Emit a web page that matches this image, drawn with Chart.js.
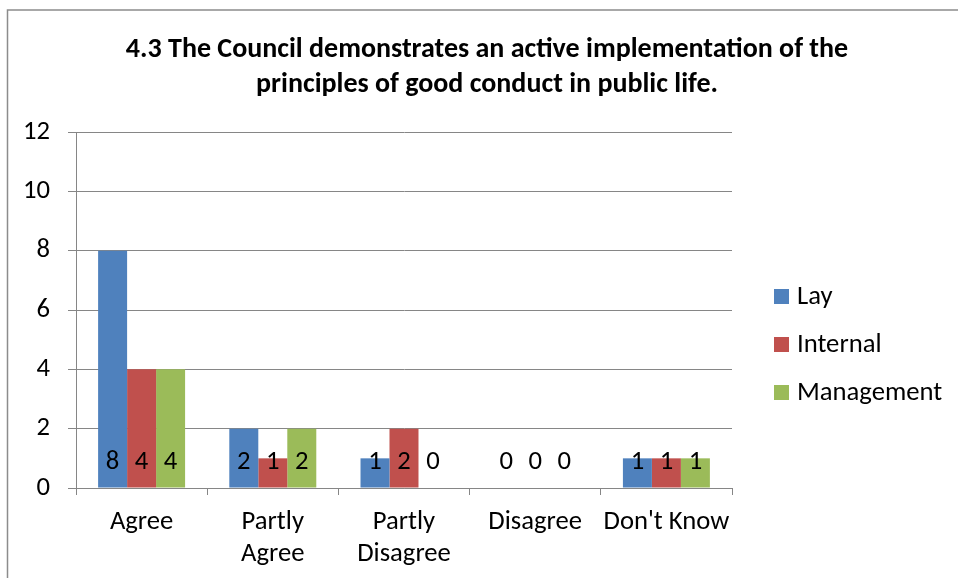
<!DOCTYPE html>
<html>
<head>
<meta charset="utf-8">
<script src="https://cdn.jsdelivr.net/npm/chart.js@4.4.1/dist/chart.umd.min.js"></script>
<style>
  html, body { margin: 0; padding: 0; background: #ffffff; }
  #wrap { width: 958px; height: 578px; position: relative; }
</style>
</head>
<body>
<div id="wrap"><canvas id="c" width="958" height="578"></canvas></div>
<script>
const titleLines = ['4.3 The Council demonstrates an active implementation of the', 'principles of good conduct in public life.'];
const categories = ['Agree', ['Partly', 'Agree'], ['Partly', 'Disagree'], 'Disagree', "Don't Know"];
const seriesNames = ['Lay', 'Internal', 'Management'];
const layValues = [8, 2, 1, 0, 1];
const internalValues = [4, 1, 2, 0, 1];
const managementValues = [4, 2, 0, 0, 1];
const seriesColors = ['#4F81BD', '#C0504D', '#9BBB59'];
const yTickMin = 0, yTickMax = 12, yTickStep = 2;

const FONT = 'Carlito, Lato, "Open Sans", sans-serif';
const GRID = '#868686';
const TXT = 26.67;

const frame = {
  id: 'frame',
  beforeDraw(chart) {
    const ctx = chart.ctx;
    ctx.save();
    ctx.fillStyle = '#ffffff';
    ctx.fillRect(0, 0, chart.width, chart.height);
    ctx.strokeStyle = '#8c8c8c';
    ctx.lineWidth = 1.5;
    ctx.strokeRect(7.5, 10, chart.width + 20, chart.height + 20);
    ctx.restore();
  }
};

const valueLabels = {
  id: 'valueLabels',
  afterDatasetsDraw(chart) {
    const ctx = chart.ctx;
    const yScale = chart.scales.y;
    const base = yScale.getPixelForValue(0);
    ctx.save();
    ctx.font = TXT + 'px ' + FONT;
    ctx.fillStyle = '#000000';
    ctx.textAlign = 'center';
    ctx.textBaseline = 'middle';
    chart.data.datasets.forEach((ds, i) => {
      const meta = chart.getDatasetMeta(i);
      meta.data.forEach((el, j) => {
        ctx.fillText(String(ds.data[j]), el.x, base - 26);
      });
    });
    ctx.restore();
  }
};

const customLegend = {
  id: 'customLegend',
  afterDraw(chart) {
    const ctx = chart.ctx;
    ctx.save();
    ctx.font = TXT + 'px ' + FONT;
    ctx.textBaseline = 'middle';
    ctx.textAlign = 'left';
    chart.data.datasets.forEach((ds, i) => {
      const cy = 296.5 + i * 48;
      ctx.fillStyle = ds.backgroundColor;
      ctx.fillRect(774, cy - 7.5, 15, 15);
      ctx.fillStyle = '#000000';
      ctx.fillText(ds.label, 797, cy + 1);
    });
    ctx.restore();
  }
};

new Chart(document.getElementById('c'), {
  type: 'bar',
  data: {
    labels: categories,
    datasets: [
      { label: seriesNames[0], data: layValues, backgroundColor: seriesColors[0] },
      { label: seriesNames[1], data: internalValues, backgroundColor: seriesColors[1] },
      { label: seriesNames[2], data: managementValues, backgroundColor: seriesColors[2] }
    ]
  },
  options: {
    responsive: false,
    animation: false,
    devicePixelRatio: 1,
    layout: { padding: { left: 16, right: 0, top: 0, bottom: 0 } },
    datasets: { bar: { categoryPercentage: 0.663, barPercentage: 1.0 } },
    plugins: {
      legend: { display: false },
      tooltip: { enabled: false },
      title: {
        display: true,
        text: titleLines,
        color: '#000000',
        font: { family: FONT, size: 28, weight: 'bold', lineHeight: 1.25 },
        padding: { top: 32, bottom: 30 }
      }
    },
    scales: {
      x: {
        offset: true,
        grid: { display: true, drawOnChartArea: false, offset: true, tickLength: 7, color: GRID, lineWidth: 1 },
        border: { display: true, color: GRID, width: 1 },
        ticks: { color: '#000000', padding: 11, maxRotation: 0, autoSkip: false, font: { family: FONT, size: TXT, lineHeight: 1.2 } },
        afterFit(s) { s.height = 90; }
      },
      y: {
        min: yTickMin,
        max: yTickMax,
        ticks: { stepSize: yTickStep, color: '#000000', padding: 18, font: { family: FONT, size: TXT } },
        grid: { color: GRID, lineWidth: 1, tickLength: 8 },
        border: { display: true, color: GRID, width: 1 },
        afterFit(s) { s.width = 60; }
      },
      yRight: {
        position: 'right',
        display: true,
        grid: { display: false },
        border: { display: false },
        ticks: { display: false },
        afterFit(s) { s.width = 226; }
      }
    }
  },
  plugins: [frame, valueLabels, customLegend]
});
</script>
</body>
</html>
